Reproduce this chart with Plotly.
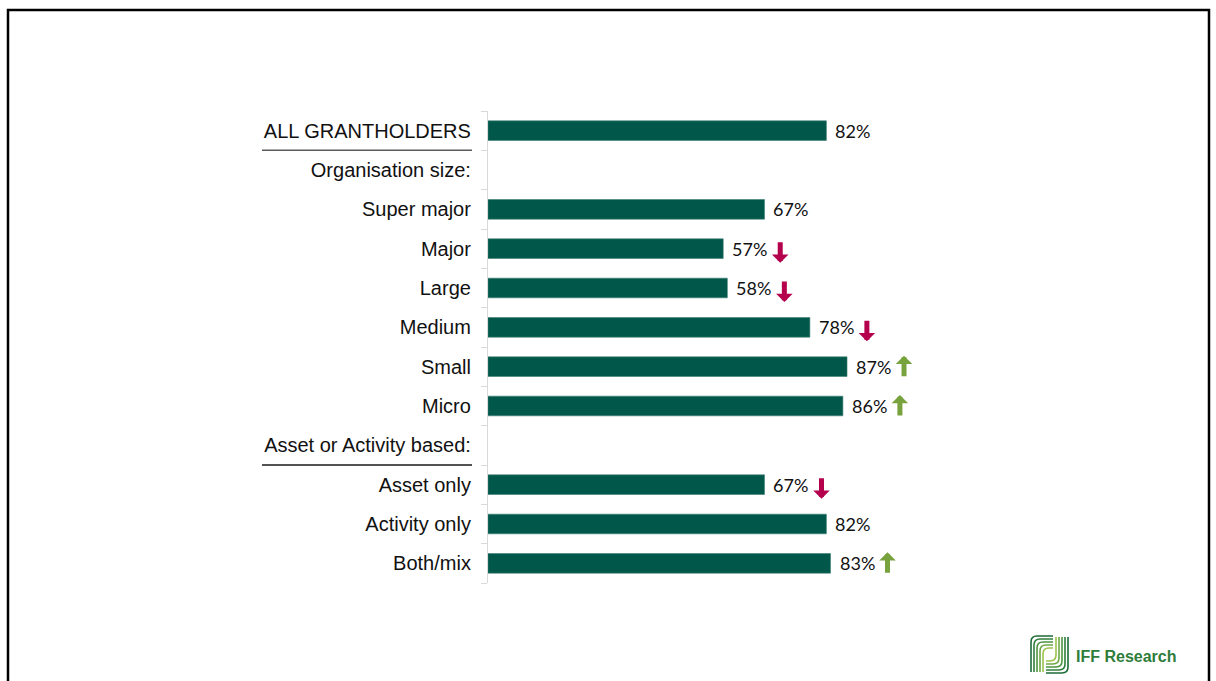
import plotly.graph_objects as go

# Survey rows, top to bottom (section headers have no bar)
categories = [
    "ALL GRANTHOLDERS",
    "Organisation size:",
    "Super major",
    "Major",
    "Large",
    "Medium",
    "Small",
    "Micro",
    "Asset or Activity based:",
    "Asset only",
    "Activity only",
    "Both/mix",
]
values = [82, None, 67, 57, 58, 78, 87, 86, None, 67, 82, 83]
# Significant difference vs all grantholders: "down", "up" or None
significance = [None, None, None, "down", "down", "down", "up", "up", None, "down", None, "up"]

BAR_COLOR = "#00574A"
DOWN_COLOR = "#B5004E"
UP_COLOR = "#78A23E"
LABEL_FONT = "Liberation Sans, Arial, sans-serif"
VALUE_FONT = "Lato, Open Sans, sans-serif"

W, H = 1216, 681
M_L, M_R, M_T, M_B = 488, 109, 111, 98
PLOT_W = W - M_L - M_R
PLOT_H = H - M_T - M_B


def px_x(px):
    """Pixel column -> paper x."""
    return (px - M_L) / PLOT_W


def px_y(py):
    """Pixel row -> paper y."""
    return (H - M_B - py) / PLOT_H


rows = list(range(len(categories)))
bar_rows = [r for r, v in zip(rows, values) if v is not None]
bar_vals = [v for v in values if v is not None]

fig = go.Figure()
fig.add_trace(go.Bar(
    x=bar_vals,
    y=bar_rows,
    orientation="h",
    width=0.5,
    marker=dict(color=BAR_COLOR, line=dict(color="#3E7F74", width=0.6)),
    hoverinfo="skip",
))

annotations = []
for r, v, s in zip(rows, values, significance):
    if v is None:
        continue
    annotations.append(dict(
        x=v, y=r, xref="x", yref="y", text=f"{v}%", showarrow=False,
        xanchor="left", yanchor="middle", xshift=7,
        font=dict(family=VALUE_FONT, size=18, color="#111111"),
    ))
    if s == "down":
        annotations.append(dict(
            x=v, y=r, xref="x", yref="y", text="", showarrow=True,
            xshift=57, yshift=-14, ax=0, ay=-22,
            arrowhead=1, arrowsize=0.55, arrowwidth=5, arrowcolor=DOWN_COLOR,
        ))
    elif s == "up":
        annotations.append(dict(
            x=v, y=r, xref="x", yref="y", text="", showarrow=True,
            xshift=57, yshift=11, ax=0, ay=22,
            arrowhead=1, arrowsize=0.55, arrowwidth=5, arrowcolor=UP_COLOR,
        ))

# Logo wordmark
annotations.append(dict(
    x=px_x(1074), y=px_y(656), xref="paper", yref="paper", text="<b>IFF Research</b>",
    showarrow=False, xanchor="left", yanchor="middle",
    font=dict(family=LABEL_FONT, size=16, color="#2F7D3B"),
))

shapes = [
    # slide frame
    dict(type="rect", xref="paper", yref="paper",
         x0=px_x(8), x1=px_x(1209), y0=px_y(700), y1=px_y(10),
         line=dict(color="black", width=2.5), layer="below"),
    # section dividers under the row labels
    dict(type="line", xref="paper", yref="y", x0=px_x(262), x1=px_x(472), y0=0.5, y1=0.5,
         line=dict(color="#5A5A5A", width=1.5)),
    dict(type="line", xref="paper", yref="y", x0=px_x(262), x1=px_x(472), y0=8.5, y1=8.5,
         line=dict(color="#1A1A1A", width=1.5)),
]

# Logo mark: nested brackets shading from dark to light green
logo_colors = ["#1E6B3A", "#2F7F3C", "#4C9440", "#6FA845", "#9CC24C"]
x0, y0, x1, y1 = 1031, 636, 1068, 673
for i, c in enumerate(logo_colors):
    d = i * 3
    # left "F" bracket: left side and top
    shapes.append(dict(
        type="path", xref="paper", yref="paper",
        path=(f"M {px_x(x0 + d)},{px_y(y1 - 1)} L {px_x(x0 + d)},{px_y(y0 + 6 + d)} "
              f"Q {px_x(x0 + d)},{px_y(y0 + d)} {px_x(x0 + 6 + d)},{px_y(y0 + d)} "
              f"L {px_x(x1 - 15)},{px_y(y0 + d)}"),
        line=dict(color=c, width=1.6),
    ))
    # right bracket: right side and bottom
    shapes.append(dict(
        type="path", xref="paper", yref="paper",
        path=(f"M {px_x(x1 - d)},{px_y(y0 + 1)} L {px_x(x1 - d)},{px_y(y1 - 6 - d)} "
              f"Q {px_x(x1 - d)},{px_y(y1 - d)} {px_x(x1 - 6 - d)},{px_y(y1 - d)} "
              f"L {px_x(x0 + 15)},{px_y(y1 - d)}"),
        line=dict(color=c, width=1.6),
    ))

fig.update_layout(
    width=W, height=H,
    margin=dict(l=M_L, r=M_R, t=M_T, b=M_B, pad=0),
    paper_bgcolor="white", plot_bgcolor="white",
    showlegend=False,
    bargap=0.5,
    annotations=annotations,
    shapes=shapes,
    xaxis=dict(range=[0, 150], visible=False, fixedrange=True),
    yaxis=dict(
        range=[11.5, -0.5],
        tickmode="array", tickvals=rows, ticktext=categories,
        ticks="", ticklabelstandoff=12,
        tickfont=dict(family=LABEL_FONT, size=20, color="#111111"),
        showline=True, linecolor="#D9D9D9", linewidth=1.2,
        showgrid=False, zeroline=False, fixedrange=True,
        minor=dict(tickmode="array", tickvals=[r - 0.5 for r in rows] + [rows[-1] + 0.5],
                   ticks="outside", ticklen=6, tickcolor="#D9D9D9", tickwidth=1.2,
                   showgrid=False),
    ),
)

fig.write_html("out.html")
